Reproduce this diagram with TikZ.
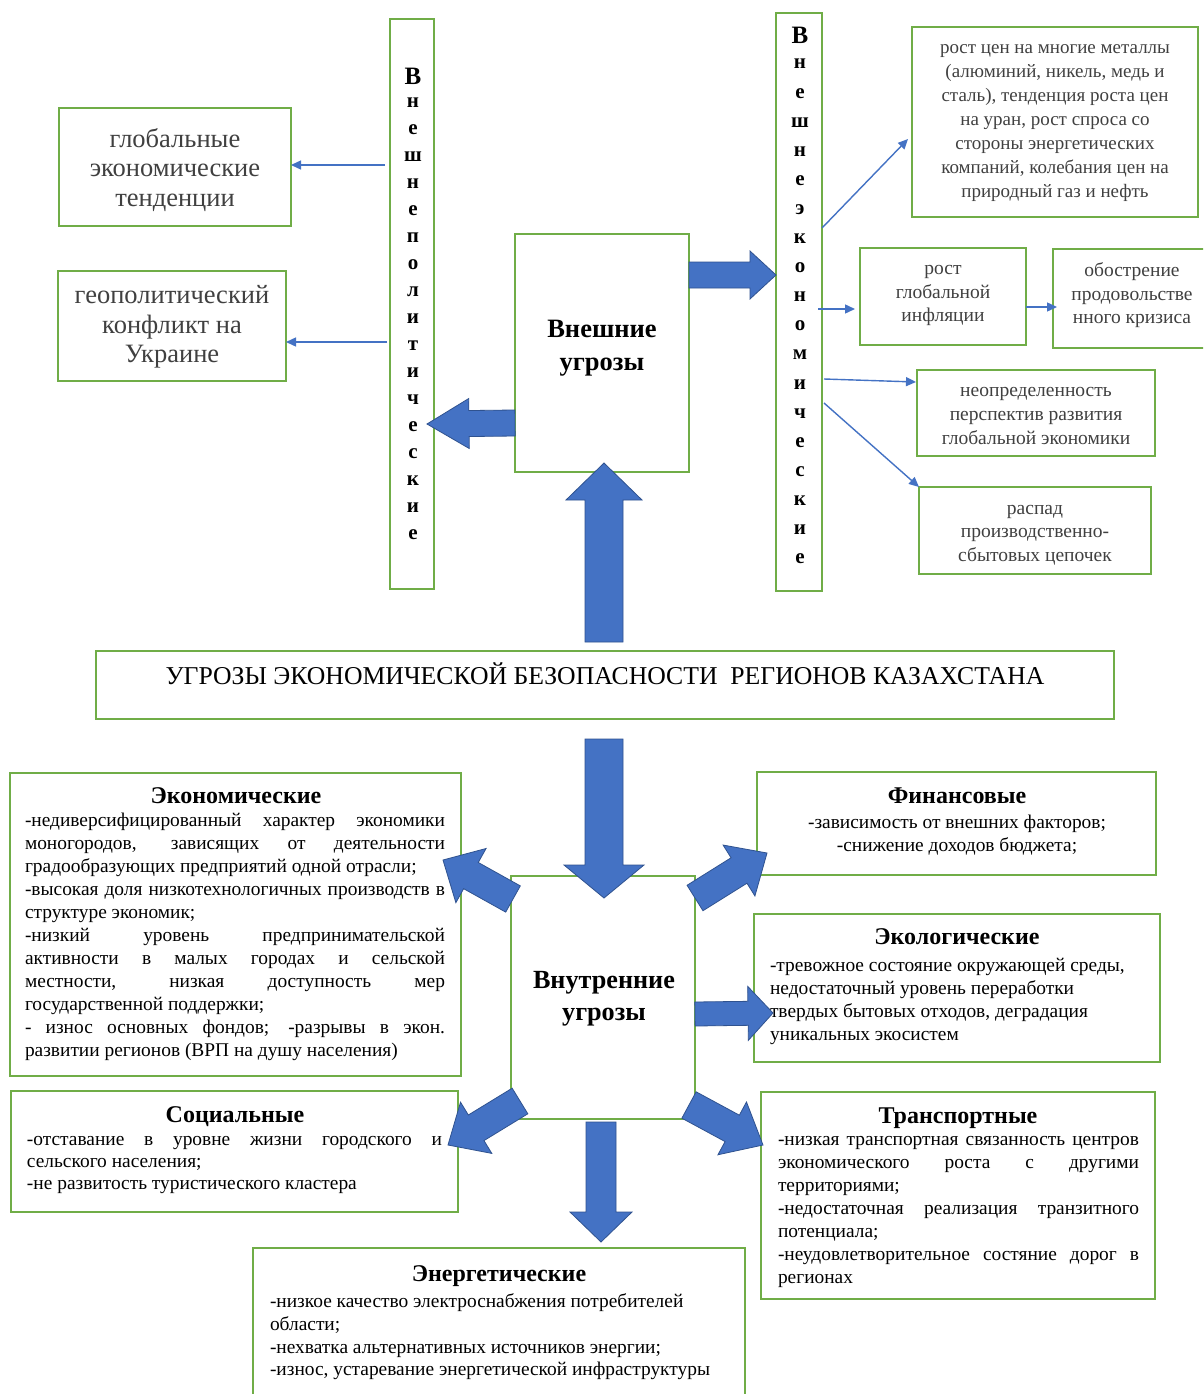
\documentclass[tikz,border=0pt]{standalone}
\usepackage{fontspec}
\setmainfont{Liberation Serif}
\usetikzlibrary{calc,arrows.meta}
\definecolor{gbord}{HTML}{70AD47}
\definecolor{bfill}{HTML}{4472C4}
\definecolor{bdraw}{HTML}{2F528F}
\definecolor{tgray}{HTML}{404040}
\def\jw{420pt}
\newcommand\J[1]{\makebox[\jw][s]{#1}}
\newcommand\blockarrow[5]{%
  \coordinate (bac) at ($(#2)!#5!(#1)$);
  \draw[blk] ($(#1)!#3!90:(#2)$) -- ($(bac)!#3!90:(#2)$) -- ($(bac)!#4!90:(#2)$) -- (#2)
    -- ($(bac)!#4!-90:(#2)$) -- ($(bac)!#3!-90:(#2)$) -- ($(#1)!#3!-90:(#2)$) -- cycle;}
\tikzset{
  every node/.style={inner sep=0pt, outer sep=0pt},
  gbox/.style={draw=gbord, line width=2pt},
  blk/.style={fill=bfill, draw=bdraw, line width=0.8pt, line join=miter},
  thinarr/.style={draw=bfill, line width=1.4pt, -{Triangle[length=10pt,width=9pt]}},
  body/.style={font=\fontsize{19.4}{23}\selectfont, align=left, anchor=north west},
  ttl/.style={font=\fontsize{24}{28}\selectfont\bfseries},
  gtxt/.style={text=tgray, align=center},
  big/.style={font=\fontsize{26.5}{29.5}\selectfont},
  mid/.style={font=\fontsize{19.5}{23.5}\selectfont},
  vl/.style={font=\fontsize{21}{21}\selectfont\bfseries},
  vcap/.style={font=\fontsize{25}{25}\selectfont\bfseries},
}
\begin{document}
\begin{tikzpicture}[x=1pt,y=-1pt]
\useasboundingbox (0,0) rectangle (1203,1394);
\clip (0,0) rectangle (1203,1394);
\fill[white] (0,0) rectangle (1203,1394);

% ---- top left boxes
\node[gbox, minimum width=232, minimum height=118] (glob) at (175,167) {};
\node[gtxt, big] (globt) at (175,170) {глобальные\\ экономические\\ тенденции};
\node[gbox, minimum width=228, minimum height=110] (geo) at (172,326) {};
\node[gtxt, big] (geot) at (172,327) {геополитический\\ конфликт на\\ Украине};

% ---- vertical boxes
\node[gbox, minimum width=44, minimum height=570] (vp) at (412,304) {};
\node[vcap] (vp0) at (413,76) {В};
\foreach \l [count=\i] in {н,е,ш,н,е,п,о,л,и,т,и,ч,е,с,к,и,е}
  \node[vl] (vp\i) at (413,{76+27*\i}) {\l};

\node[gbox, minimum width=46, minimum height=578] (ve) at (799,302) {};
\node[vcap] (ve0) at (800,35) {В};
\foreach \l [count=\i] in {н,е,ш,н,е,э,к,о,н,о,м,и,ч,е,с,к,и,е}
  \node[vl] (ve\i) at (800,{35+29.1*\i}) {\l};

% ---- external threats
\node[gbox, minimum width=174, minimum height=238] (ext) at (602,353) {};
\node[font=\fontsize{26.5}{33}\selectfont\bfseries, align=center] (extt) at (602,348) {Внешние\\ угрозы};

% ---- top right boxes
\node[gbox, minimum width=286, minimum height=190] (tb) at (1055,122) {};
\node[gtxt, font=\fontsize{19}{24}\selectfont] (tbt) at (1055,123)
  {рост цен на многие металлы\\ (алюминий, никель, медь и\\ сталь), тенденция роста цен\\ на уран, рост спроса со\\ стороны энергетических\\ компаний, колебания цен на\\ природный газ и нефть};
\node[gbox, minimum width=166, minimum height=97] (infl) at (943,296.5) {};
\node[gtxt, mid] (inflt) at (943,295.5) {рост\\ глобальной\\ инфляции};
\node[gbox, minimum width=155, minimum height=99] (obost) at (1130.5,298.5) {};
\node[gtxt, mid] (obostt) at (1132,295.5) {обострение\\ продовольстве\\ нного кризиса};
\node[gbox, minimum width=238, minimum height=86] (neop) at (1036,413) {};
\node[gtxt, font=\fontsize{19.5}{24}\selectfont] (neopt) at (1036,416) {неопределенность\\ перспектив развития\\ глобальной экономики};
\node[gbox, minimum width=232, minimum height=87] (rasp) at (1035,530.5) {};
\node[gtxt, mid] (raspt) at (1035,535) {распад\\ производственно-\\ сбытовых цепочек};

% ---- title
\node[gbox, minimum width=1018, minimum height=68] (title) at (605,685) {};
\node[font=\fontsize{25.7}{28}\selectfont] (titlet) at (605,674) {УГРОЗЫ ЭКОНОМИЧЕСКОЙ БЕЗОПАСНОСТИ\ \ РЕГИОНОВ КАЗАХСТАНА};

% ---- internal threats
\node[gbox, minimum width=184, minimum height=243] (inner) at (603,997.5) {};
\node[font=\fontsize{26.2}{32}\selectfont\bfseries, align=center] (innert) at (604,999) {Внутренние\\ угрозы};

% ---- bottom boxes
\node[gbox, minimum width=451, minimum height=303] (eco) at (235.5,924.5) {};
\node[ttl] (ecot) at (236,796) {Экономические};
\def\jw{420pt}
\node[body] (ecob) at (25,813)
  {\J{-недиверсифицированный характер экономики}\\
   \J{моногородов, зависящих от деятельности}\\
   градообразующих предприятий одной отрасли;\\
   \J{-высокая доля низкотехнологичных производств в}\\
   структуре экономик;\\
   \J{-низкий уровень предпринимательской}\\
   \J{активности в малых городах и сельской}\\
   \J{местности, низкая доступность мер}\\
   государственной поддержки;\\
   \J{- износ основных фондов; -разрывы в экон.}\\
   развитии регионов (ВРП на душу населения)};

\node[gbox, minimum width=399, minimum height=103] (fin) at (956.5,823.5) {};
\node[ttl] (fint) at (957,796) {Финансовые};
\node[font=\fontsize{19.4}{23}\selectfont, align=center] (finb) at (957,835)
  {-зависимость от внешних факторов;\\ -снижение доходов бюджета;};

\node[gbox, minimum width=406, minimum height=148] (ecol) at (957,988) {};
\node[ttl] (ecolt) at (957,937) {Экологические};
\node[body] (ecolb) at (770,958)
  {-тревожное состояние окружающей среды,\\
   недостаточный уровень переработки\\
   твердых бытовых отходов, деградация\\
   уникальных экосистем};

\node[gbox, minimum width=447, minimum height=121] (soc) at (234.5,1151.5) {};
\node[ttl] (soct) at (235,1117) {Социальные};
\def\jw{415pt}
\node[body, font=\fontsize{19.4}{22}\selectfont] (socb) at (27,1136)
  {\J{-отставание в уровне жизни городского и}\\
   сельского населения;\\
   -не развитость туристического кластера};

\node[gbox, minimum width=394, minimum height=207] (trans) at (958,1195.5) {};
\node[ttl] (transt) at (958,1118) {Транспортные};
\def\jw{361pt}
\node[body, font=\fontsize{19.4}{23}\selectfont] (transb) at (778,1136)
  {\J{-низкая транспортная связанность центров}\\
   \J{экономического роста с другими}\\
   территориями;\\
   \J{-недостаточная реализация транзитного}\\
   потенциала;\\
   \J{-неудовлетворительное состяние дорог в}\\
   регионах};

\node[gbox, minimum width=492, minimum height=152] (energ) at (499,1324) {};
\node[ttl] (energt) at (499,1276) {Энергетические};
\node[body, font=\fontsize{19.4}{22.6}\selectfont] (energb) at (270,1294)
  {-низкое качество электроснабжения потребителей\\
   области;\\
   -нехватка альтернативных источников энергии;\\
   -износ, устаревание энергетической инфраструктуры};

% ---- thin arrows
\draw[thinarr] ([xshift=-5pt]vp.west |- 0,165) -- (glob.east |- 0,165);
\draw[thinarr] ([xshift=-3pt]vp.west |- 0,342) -- (geo.east |- 0,342);
\draw[thinarr] (ve.east |- 0,228) -- ([xshift=-4pt]tb.west |- 0,139);
\draw[thinarr] ([xshift=-4pt]ve.east |- 0,309) -- ([xshift=-5pt]infl.west |- 0,309);
\draw[thinarr] (infl.east |- 0,307) -- ([xshift=4pt]obost.west |- 0,307);
\draw[thinarr] ([xshift=2pt]ve.east |- 0,379) -- ([xshift=-1pt]neop.west |- 0,382);
\draw[thinarr] ([xshift=2pt]ve.east |- 0,403) -- (rasp.north west);

% ---- block arrows
\coordinate (r1a) at (ext.east |- 0,275);
\coordinate (r1b) at (ve.west |- 0,275);
\blockarrow{r1a}{r1b}{13pt}{24pt}{26pt}
\coordinate (l1a) at (ext.west |- 0,423);
\coordinate (l1b) at ([xshift=-7pt]vp.east |- 0,424);
\blockarrow{l1a}{l1b}{13pt}{25pt}{42pt}
\coordinate (u1a) at (604,642);
\coordinate (u1b) at (ext.south -| 604,0);
\coordinate (u1c) at ([yshift=9pt]u1b);
\blockarrow{u1a}{u1c}{19pt}{38pt}{37pt}
\coordinate (d1a) at (604,739);
\coordinate (d1b) at (604,898);
\blockarrow{d1a}{d1b}{19pt}{40pt}{33pt}
\coordinate (d2a) at ([yshift=-3pt]inner.south -| 601,0);
\coordinate (d2b) at (601,1242);
\blockarrow{d2a}{d2b}{15pt}{31pt}{30pt}
\coordinate (ula) at (513,899);
\coordinate (ulb) at (443,860);
\blockarrow{ula}{ulb}{15pt}{31pt}{32pt}
\coordinate (ura) at (695,898);
\coordinate (urb) at (767,853);
\blockarrow{ura}{urb}{15pt}{30pt}{33pt}
\coordinate (rra) at (inner.east |- 0,1014);
\coordinate (rrb) at (773,1013);
\blockarrow{rra}{rrb}{12pt}{27pt}{25pt}
\coordinate (dla) at (520,1101);
\coordinate (dlb) at (448,1145);
\blockarrow{dla}{dlb}{15pt}{30pt}{33pt}
\coordinate (dra) at (689,1105);
\coordinate (drb) at (763,1145);
\blockarrow{dra}{drb}{15pt}{30pt}{35pt}
\end{tikzpicture}
\end{document}
